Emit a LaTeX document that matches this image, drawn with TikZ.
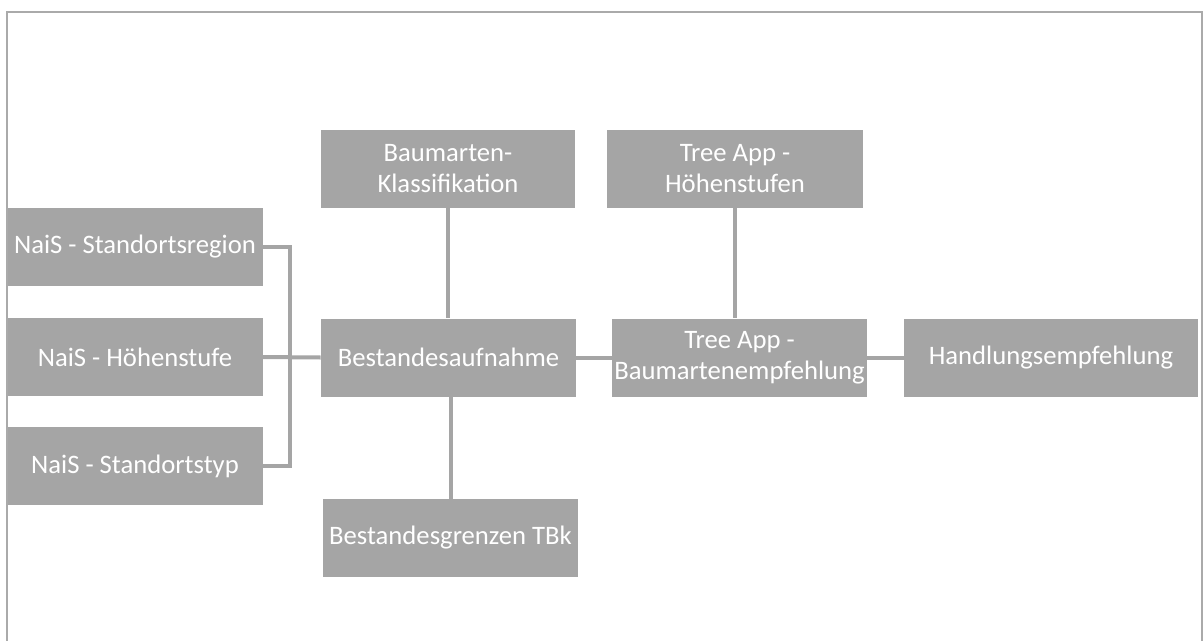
\documentclass[tikz,border=0pt]{standalone}
\usepackage{fontspec}
\setmainfont{Carlito}
\usepackage{tikz}
\usetikzlibrary{positioning, calc}

\definecolor{boxgray}{RGB}{165, 165, 165}
\definecolor{framegray}{RGB}{170, 170, 170}

\tikzset{
  flowbox/.style={fill=boxgray, text=white, align=center, inner sep=0pt,
    minimum height=58.5pt, minimum width=191.25pt, font=\fontsize{20}{23}\selectfont},
  link/.style={draw=boxgray, line width=3pt}
}

\begin{document}
\begin{tikzpicture}[x=0.75pt, y=-0.75pt]
  \clip (0,0) rectangle (1204,640);

  % Frame
  \draw[framegray, line width=1.5pt] (7,12) rectangle (1202,680);

  % NaiS inputs
  \node[flowbox] (region) at (135, 247) {NaiS - Standortsregion};
  \node[flowbox] (hoehe) at (135, 357) {NaiS - Höhenstufe};
  \node[flowbox] (typ) at (135, 466) {NaiS - Standortstyp};

  % Bestand
  \node[flowbox, minimum width=190.5pt] (klass) at (448, 168.5) {Baumarten-\\Klassifikation};
  \node[flowbox] (aufnahme) at (448.5, 357.5) {Bestandesaufnahme};
  \node[flowbox] (grenzen) at (450.5, 538) {Bestandesgrenzen TBk};

  % Tree App
  \node[flowbox, minimum width=192pt] (tahoehe) at (735, 168.5) {Tree App -\\Höhenstufen};
  \node[flowbox] (empf) at (739.5, 357.5) {Tree App -\\Baumartenempfehlung};

  % Result
  \node[flowbox, minimum width=220.5pt] (handlung) at (1051, 357.5) {Handlungsempfehlung};

  % Connectors
  \coordinate (bar) at (290, 247);
  \draw[link] (region.east) -- (bar) |- (typ.east);
  \draw[link] (hoehe.east) -- (aufnahme.west);
  \draw[link] (klass.south) -- (klass.south |- aufnahme.north);
  \draw[link] (grenzen.north |- aufnahme.south) -- (grenzen.north);
  \draw[link] (tahoehe.south) -- (tahoehe.south |- empf.north);
  \draw[link] (aufnahme.east) -- (empf.west);
  \draw[link] (empf.east) -- (handlung.west);
\end{tikzpicture}
\end{document}
